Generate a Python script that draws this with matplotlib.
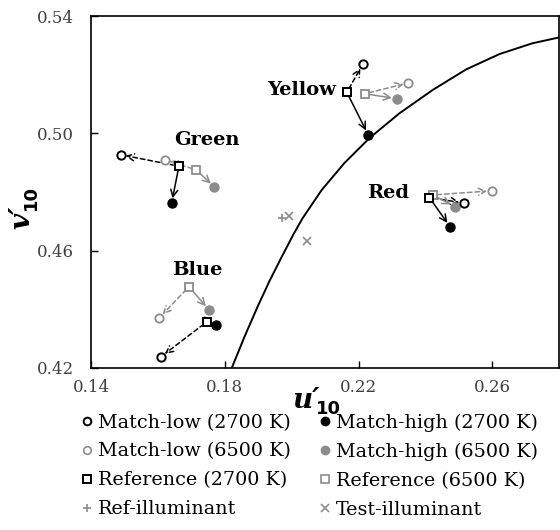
import matplotlib
matplotlib.use("Agg")
import matplotlib.pyplot as plt
from matplotlib.lines import Line2D

plt.rcParams['font.family'] = ['DejaVu Serif']

# colour-patch order: Yellow, Green, Red, Blue
patch_names = ['Yellow', 'Green', 'Red', 'Blue']
ref_2700_u = [0.2165, 0.1663, 0.2412, 0.1747]
ref_2700_v = [0.5140, 0.4888, 0.4781, 0.4358]
low_2700_u = [0.2213, 0.1489, 0.2516, 0.1609]
low_2700_v = [0.5236, 0.4927, 0.4762, 0.4238]
high_2700_u = [0.2229, 0.1641, 0.2474, 0.1775]
high_2700_v = [0.4995, 0.4762, 0.4681, 0.4347]
ref_6500_u = [0.2219, 0.1715, 0.2422, 0.1693]
ref_6500_v = [0.5135, 0.4875, 0.4790, 0.4477]
low_6500_u = [0.2349, 0.1620, 0.2599, 0.1604]
low_6500_v = [0.5172, 0.4910, 0.4804, 0.4371]
high_6500_u = [0.2314, 0.1769, 0.2489, 0.1753]
high_6500_v = [0.5118, 0.4817, 0.4750, 0.4398]

ref_illum_u = [0.1971]
ref_illum_v = [0.4710]
test_illum_u = [0.1991, 0.2047]
test_illum_v = [0.4719, 0.4633]

# blackbody locus
locus_u = [0.1822, 0.1860, 0.1899, 0.1934, 0.1970, 0.2006, 0.2033, 0.2090,
           0.2158, 0.2233, 0.2322, 0.2422, 0.2522, 0.2621, 0.2720, 0.2800]
locus_v = [0.4203, 0.4309, 0.4411, 0.4497, 0.4578, 0.4657, 0.4711, 0.4807,
           0.4899, 0.4984, 0.5068, 0.5148, 0.5218, 0.5270, 0.5307, 0.5327]

BLACK = '#000000'
GRAY = '#8c8c8c'

fig = plt.figure(figsize=(5.6, 5.3), dpi=100)
ax = fig.add_axes([0.1625, 0.3057, 0.836, 0.6641])

ax.plot(locus_u, locus_v, color='black', lw=1.4, zorder=1)


def arrow(x0, y0, x1, y1, color, dashed):
    ax.annotate('', xy=(x1, y1), xytext=(x0, y0),
                arrowprops=dict(arrowstyle='->,head_length=0.5,head_width=0.25',
                                color=color, lw=1.1,
                                linestyle=(0, (3, 2)) if dashed else '-',
                                shrinkA=3, shrinkB=3.5),
                zorder=2)


for i in range(len(patch_names)):
    arrow(ref_2700_u[i], ref_2700_v[i], low_2700_u[i], low_2700_v[i], BLACK, True)
    arrow(ref_2700_u[i], ref_2700_v[i], high_2700_u[i], high_2700_v[i], BLACK, False)
    arrow(ref_6500_u[i], ref_6500_v[i], low_6500_u[i], low_6500_v[i], GRAY, True)
    arrow(ref_6500_u[i], ref_6500_v[i], high_6500_u[i], high_6500_v[i], GRAY, False)

ax.plot(low_6500_u, low_6500_v, 'o', ms=6, mfc='white', mec=GRAY, mew=1.3, zorder=3)
ax.plot(high_6500_u, high_6500_v, 'o', ms=6.5, mfc=GRAY, mec=GRAY, zorder=3)
ax.plot(ref_6500_u, ref_6500_v, 's', ms=5.8, mfc='white', mec=GRAY, mew=1.3, zorder=4)
ax.plot(low_2700_u, low_2700_v, 'o', ms=6, mfc='white', mec=BLACK, mew=1.4, zorder=3)
ax.plot(high_2700_u, high_2700_v, 'o', ms=6.5, mfc=BLACK, mec=BLACK, zorder=3)
ax.plot(ref_2700_u, ref_2700_v, 's', ms=5.8, mfc='white', mec=BLACK, mew=1.4, zorder=4)
ax.plot(ref_illum_u, ref_illum_v, '+', ms=6, mec=GRAY, mew=1.2, zorder=3)
ax.plot(test_illum_u, test_illum_v, 'x', ms=5.5, mec=GRAY, mew=1.2, zorder=3)

label_pos = {'Yellow': (0.2134, 0.5148, 'right'),
             'Green': (0.1746, 0.4977, 'center'),
             'Red': (0.2290, 0.4798, 'center'),
             'Blue': (0.1718, 0.4534, 'center')}
for name in patch_names:
    x, y, ha = label_pos[name]
    ax.text(x, y, name, fontsize=14, fontweight='bold', ha=ha, va='center')

ax.set_xlim(0.14, 0.28)
ax.set_ylim(0.42, 0.54)
ax.set_xticks([0.14, 0.18, 0.22, 0.26])
ax.set_yticks([0.42, 0.46, 0.50, 0.54])
ax.set_xticklabels(['0.14', '0.18', '0.22', '0.26'])
ax.set_yticklabels(['0.42', '0.46', '0.50', '0.54'])
ax.tick_params(direction='in', length=5, width=1, labelsize=12,
               labelcolor='#404040', top=False, right=False)
ax.tick_params(axis='y', pad=12)
ax.tick_params(axis='x', pad=8)
for s in ax.spines.values():
    s.set_linewidth(1.2)

# axis titles: bold italic letter with prime, bold subscript 10
xl = ax.text(0.43, -0.093, "u\u2032", transform=ax.transAxes, fontsize=20,
             fontweight='bold', fontstyle='italic', ha='left', va='center')
ax.annotate('10', xy=(1, 0), xycoords=xl, xytext=(-3, -3),
            textcoords='offset points', fontsize=13, fontweight='bold',
            family='DejaVu Sans', ha='left', va='bottom')
yl = ax.text(-0.147, 0.395, "v\u2032", transform=ax.transAxes, fontsize=20,
             fontweight='bold', fontstyle='italic', ha='center', va='bottom',
             rotation=90)
ax.annotate('10', xy=(1, 1), xycoords=yl, xytext=(3, -3),
            textcoords='offset points', fontsize=13, fontweight='bold',
            family='DejaVu Sans', ha='right', va='bottom', rotation=90)

handles = [
    Line2D([], [], ls='none', marker='o', ms=5.5, mfc='white', mec=BLACK, mew=1.4),
    Line2D([], [], ls='none', marker='o', ms=5.5, mfc='white', mec=GRAY, mew=1.2),
    Line2D([], [], ls='none', marker='s', ms=5.5, mfc='white', mec=BLACK, mew=1.4),
    Line2D([], [], ls='none', marker='+', ms=6, mec=GRAY, mew=1.2),
    Line2D([], [], ls='none', marker='o', ms=6, mfc=BLACK, mec=BLACK),
    Line2D([], [], ls='none', marker='o', ms=6, mfc=GRAY, mec=GRAY),
    Line2D([], [], ls='none', marker='s', ms=5.5, mfc='white', mec=GRAY, mew=1.2),
    Line2D([], [], ls='none', marker='x', ms=5.5, mec=GRAY, mew=1.2),
]
labels = ['Match-low (2700 K)', 'Match-low (6500 K)', 'Reference (2700 K)',
          'Ref-illuminant', 'Match-high (2700 K)', 'Match-high (6500 K)',
          'Reference (6500 K)', 'Test-illuminant']
fig.legend(handles, labels, ncol=2, frameon=False, fontsize=13.8,
           loc='upper left', bbox_to_anchor=(0.1446, 0.22),
           handlelength=0.6, handletextpad=0.3, columnspacing=1.45,
           labelspacing=0.57, borderaxespad=0, borderpad=0)

fig.savefig('out.png', dpi=100)
